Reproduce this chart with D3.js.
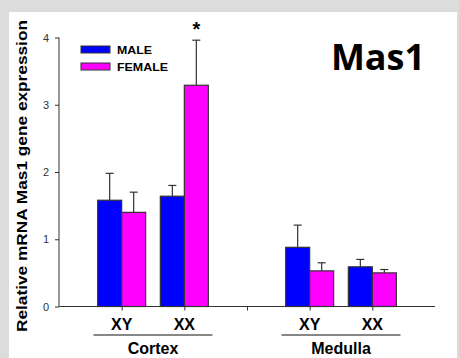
<!DOCTYPE html>
<html>
<head>
<meta charset="utf-8">
<script src="https://cdn.jsdelivr.net/npm/d3@7"></script>
<style>
  body { margin: 0; background: #dcdcdc; }
  svg { display: block; }
</style>
</head>
<body>
<script>
// values
const regions = ['Cortex', 'Medulla'];
const genotypes = ['XY', 'XX'];
const series = ['MALE', 'FEMALE'];
const colors = ['#0000ff', '#ff00ff'];
// slot on the x axis for each genotype group (0..6)
const slots = [1, 2, 4, 5];
const maleMean = [1.58, 1.64, 0.88, 0.59];
const maleErr = [0.40, 0.16, 0.33, 0.11];
const femaleMean = [1.40, 3.29, 0.53, 0.50];
const femaleErr = [0.30, 0.67, 0.12, 0.05];
const yTicks = [0, 1, 2, 3, 4];

document.addEventListener("DOMContentLoaded", () => {
    const width = 459;
    const height = 358;

    const svg = d3.select('body')
        .append('svg')
        .attr('width', width)
        .attr('height', height);

    svg.append('rect')
        .attr('x', 9).attr('y', 12)
        .attr('width', 448).attr('height', height - 12)
        .attr('fill', '#fff');

    const x = d3.scaleLinear().domain([0, 6]).range([59, 435]);
    const y = d3.scaleLinear().domain([0, 4]).range([306.5, 37.5]);
    const barW = 24;

    // y axis
    const yAxis = svg.append('g')
        .attr('transform', `translate(${x(0)},0)`)
        .call(d3.axisLeft(y).tickValues(yTicks).tickSize(4).tickPadding(6).tickFormat(d3.format('d')));
    yAxis.select('.domain').attr('stroke', '#333').attr('d', `M0,${y(4)}V${y(0)}`);
    yAxis.selectAll('line').attr('stroke', '#333');
    yAxis.selectAll('text')
        .attr('font-family', 'Liberation Sans, Arial, sans-serif')
        .attr('font-size', 11).attr('fill', '#333');

    // x axis, ticks at group centres and between regions
    const xAxis = svg.append('g')
        .attr('transform', `translate(0,${y(0)})`)
        .call(d3.axisBottom(x).tickValues([1, 2, 3, 4, 5]).tickSize(4).tickFormat(''));
    xAxis.select('.domain').attr('stroke', '#333').attr('d', `M${x(0)},0H${x(6)}`);
    xAxis.selectAll('line').attr('stroke', '#333');

    const data = [];
    slots.forEach((s, i) => {
        data.push({ cx: x(s) - barW / 2, v: maleMean[i], e: maleErr[i], c: colors[0] });
        data.push({ cx: x(s) + barW / 2, v: femaleMean[i], e: femaleErr[i], c: colors[1] });
    });

    // error bars (drawn under the bars)
    const eb = svg.append('g').attr('stroke', '#333').attr('stroke-width', 1.2);
    eb.selectAll('line.v').data(data).enter().append('line')
        .attr('x1', d => d.cx).attr('x2', d => d.cx)
        .attr('y1', d => y(d.v)).attr('y2', d => y(d.v + d.e));
    eb.selectAll('line.c').data(data).enter().append('line')
        .attr('x1', d => d.cx - 4).attr('x2', d => d.cx + 4)
        .attr('y1', d => y(d.v + d.e)).attr('y2', d => y(d.v + d.e));

    svg.append('g').selectAll('rect').data(data).enter().append('rect')
        .attr('x', d => d.cx - barW / 2)
        .attr('y', d => y(d.v))
        .attr('width', barW)
        .attr('height', d => y(0) - y(d.v))
        .attr('fill', d => d.c)
        .attr('stroke', '#333')
        .attr('stroke-width', 1.2);

    // asterisk over female XX cortex
    svg.append('text')
        .attr('x', x(slots[1]) + barW / 2)
        .attr('y', y(femaleMean[1] + femaleErr[1]) - 4)
        .attr('text-anchor', 'middle')
        .attr('font-family', 'Liberation Sans, Arial, sans-serif')
        .attr('font-weight', 'bold').attr('font-size', 20)
        .text('*');

    const bold = 'Liberation Sans, Arial, sans-serif';

    // genotype labels
    svg.append('g').selectAll('text').data(slots).enter().append('text')
        .attr('x', d => x(d))
        .attr('y', 329.5)
        .attr('text-anchor', 'middle')
        .attr('font-family', bold).attr('font-weight', 'bold').attr('font-size', 16)
        .text((d, i) => genotypes[i % 2]);

    // region labels with rules
    regions.forEach((r, i) => {
        const mid = (x(slots[i * 2]) + x(slots[i * 2 + 1])) / 2;
        svg.append('line')
            .attr('x1', mid - 59.5).attr('x2', mid + 59.5)
            .attr('y1', 335).attr('y2', 335)
            .attr('stroke', '#111').attr('stroke-width', 1.2);
        svg.append('text')
            .attr('x', mid).attr('y', 354)
            .attr('text-anchor', 'middle')
            .attr('font-family', bold).attr('font-weight', 'bold').attr('font-size', 16)
            .text(r);
    });

    // y label (stretched like the original)
    svg.append('text')
        .attr('transform', 'translate(26.5,176) rotate(-90)')
        .attr('text-anchor', 'middle')
        .attr('font-family', bold).attr('font-weight', 'bold').attr('font-size', 14)
        .attr('textLength', 312).attr('lengthAdjust', 'spacingAndGlyphs')
        .text('Relative mRNA Mas1 gene expression');

    // legend
    const lg = svg.append('g');
    const legendW = [35, 51];
    series.forEach((s, i) => {
        lg.append('rect')
            .attr('x', 81).attr('y', 46 + i * 17)
            .attr('width', 29).attr('height', 7)
            .attr('fill', colors[i]).attr('stroke', '#333').attr('stroke-width', 1);
        lg.append('text')
            .attr('x', 117).attr('y', 53.5 + i * 17)
            .attr('font-family', bold).attr('font-weight', 'bold').attr('font-size', 11)
            .attr('textLength', legendW[i]).attr('lengthAdjust', 'spacingAndGlyphs')
            .text(s);
    });

    // title
    svg.append('text')
        .attr('x', 378).attr('y', 70)
        .attr('text-anchor', 'middle')
        .attr('font-family', 'Open Sans, sans-serif')
        .attr('font-weight', 'bold').attr('font-size', 36)
        .text('Mas1');
});
</script>
</body>
</html>
